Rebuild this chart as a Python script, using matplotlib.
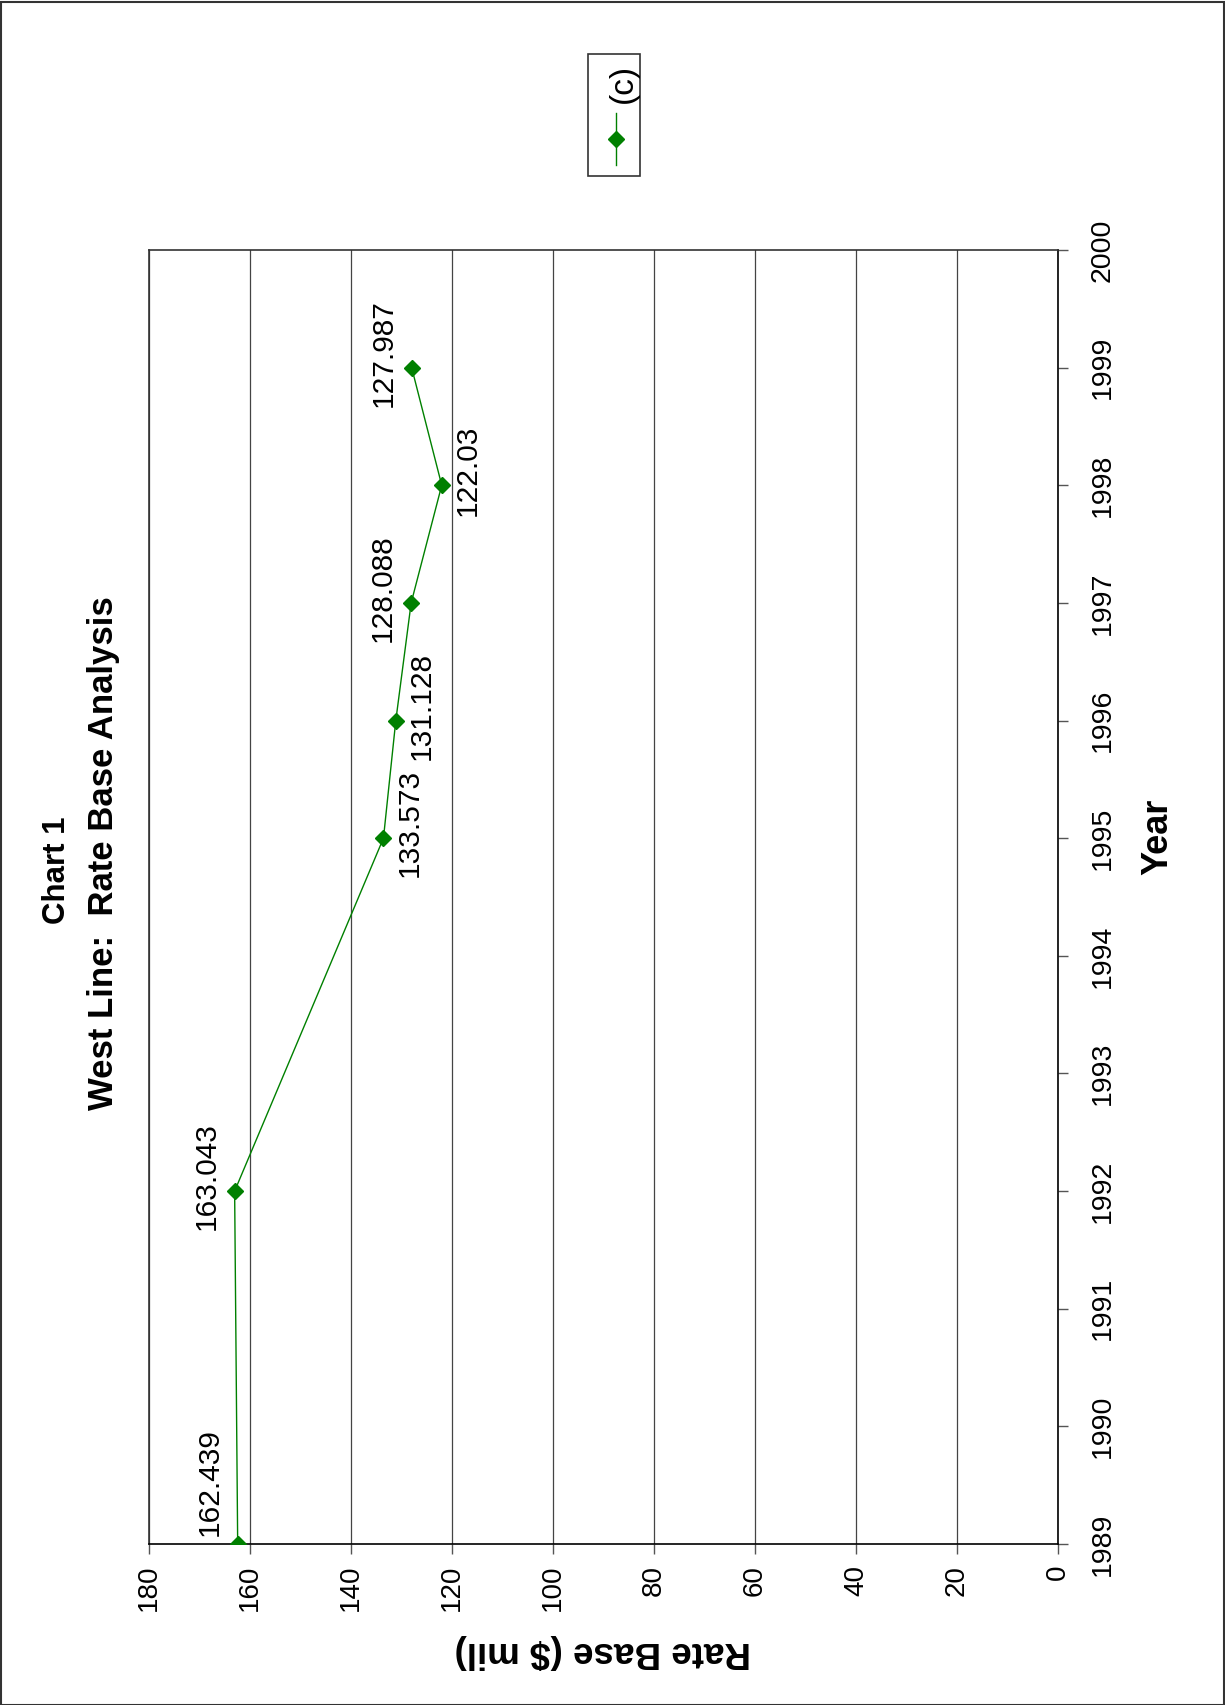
import matplotlib
matplotlib.use("Agg")
import matplotlib.pyplot as plt
from matplotlib.lines import Line2D
from matplotlib.patches import Rectangle

plt.rcParams['font.family'] = ['Liberation Sans', 'DejaVu Sans']

# ---- data ----
years = [1989, 1992, 1995, 1996, 1997, 1998, 1999]
rate_base = [162.439, 163.043, 133.573, 131.128, 128.088, 122.03, 127.987]
value_labels = ["162.439", "163.043", "133.573", "131.128", "128.088", "122.03", "127.987"]
label_side = ["above", "above", "below", "below", "above", "below", "above"]
year_ticks = list(range(1989, 2001))
rate_ticks = list(range(0, 181, 20))
series_name = "(c)"
title_lines = ["Chart 1", "West Line:  Rate Base Analysis"]
x_title = "Year"
y_title = "Rate Base ($ mil)"

GREEN = "#008000"
W, H = 1225, 1705
fig = plt.figure(figsize=(W / 100, H / 100), dpi=100)

# figure border
fig.add_artist(Rectangle((0.5 / W, 0.5 / H), 1 - 2 / W, 1 - 2.5 / H, transform=fig.transFigure,
                         fill=False, edgecolor="#333333", linewidth=1.5))

# axes (rotated chart: value axis horizontal, inverted; year axis vertical on the right)
L, R, T, B = 149, 1058, 250, 1544
ax = fig.add_axes([L / W, 1 - B / H, (R - L) / W, (B - T) / H])
ax.plot(rate_base, years, color=GREEN, linewidth=1.0, marker="D", markersize=8.5,
        markerfacecolor=GREEN, markeredgecolor=GREEN, zorder=3)
ax.set_xlim(180, 0)
ax.set_ylim(1989, 2000)
ax.set_xticks(rate_ticks)
ax.set_yticks(year_ticks)
ax.xaxis.grid(True, color="#444444", linewidth=0.9)
ax.set_axisbelow(True)
ax.yaxis.tick_right()
ax.tick_params(axis="x", direction="out", length=7, width=1, pad=8, labelsize=20,
               labelrotation=90, color="#555555")
ax.tick_params(axis="y", direction="out", length=7, width=1, pad=16, labelsize=20.5,
               labelrotation=90, color="#555555")
for lab in ax.get_yticklabels():
    lab.set_verticalalignment("center")
    lab.set_horizontalalignment("left")
for sp in ax.spines.values():
    sp.set_color("#333333")
    sp.set_linewidth(1.2)
ax.spines["right"].set_color("black")
ax.spines["bottom"].set_color("black")

# data labels
for v, y, txt, side in zip(rate_base, years, value_labels, label_side):
    dx = -28 if side == "above" else 26
    dy = 15
    if y == years[0]:
        dy = 62
    ax.annotate(txt, (v, y), xytext=(dx, dy), textcoords="offset pixels",
                rotation=90, ha="center", va="center", fontsize=21.5, zorder=4)

# titles
fig.text(57 / W, 1 - 870 / H, title_lines[0], rotation=90, ha="center", va="center",
         fontsize=22.5, fontweight="bold")
fig.text(104 / W, 1 - 853 / H, title_lines[1], rotation=90, ha="center", va="center",
         fontsize=25, fontweight="bold")
fig.text(1158 / W, 1 - 837 / H, x_title, rotation=90, ha="center", va="center",
         fontsize=26, fontweight="bold")
fig.text(603 / W, 1 - 1652 / H, y_title, rotation=180, ha="center", va="center",
         fontsize=26.5, fontweight="bold")

# legend (rotated)
lx0, ly0, lx1, ly1 = 588, 54, 640, 176
fig.add_artist(Rectangle((lx0 / W, 1 - ly1 / H), (lx1 - lx0) / W, (ly1 - ly0) / H,
                         transform=fig.transFigure, fill=False, edgecolor="#333333", linewidth=1.2))
fig.add_artist(Line2D([616 / W, 616 / W], [1 - 165 / H, 1 - 113 / H], transform=fig.transFigure,
                      color=GREEN, linewidth=1.0))
fig.add_artist(Line2D([616 / W], [1 - 139 / H], transform=fig.transFigure, color=GREEN,
                      marker="D", markersize=8.5, markerfacecolor=GREEN, markeredgecolor=GREEN))
fig.text(623 / W, 1 - 83 / H, series_name, rotation=90, ha="center", va="center", fontsize=24)

fig.savefig("out.png", dpi=100)
